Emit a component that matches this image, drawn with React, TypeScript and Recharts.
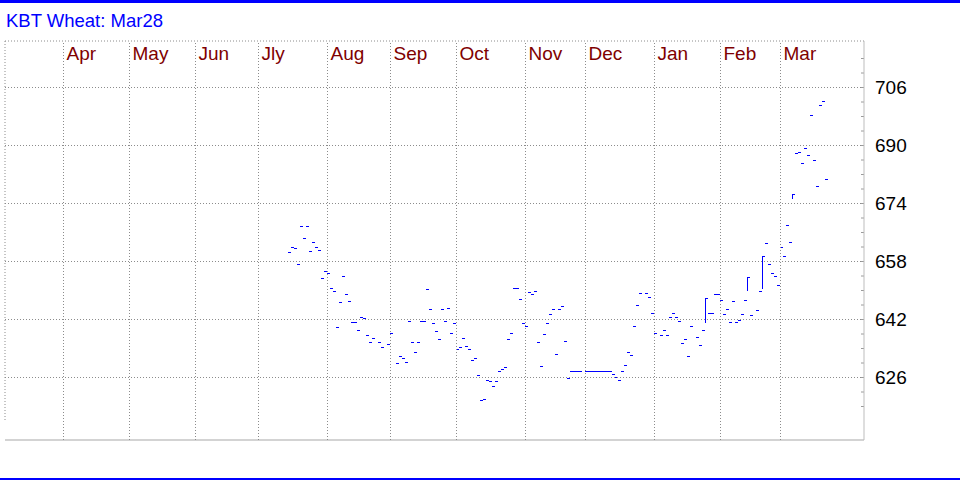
import React from 'react';
import { ComposedChart, Bar, XAxis, YAxis, ReferenceLine } from 'recharts';

const chartTitle = 'KBT Wheat: Mar28';

const monthLabels = ['Apr', 'May', 'Jun', 'Jly', 'Aug', 'Sep', 'Oct', 'Nov', 'Dec', 'Jan', 'Feb', 'Mar'];
// month boundaries expressed on the trading-day axis
const monthStarts = [-74.83, -52.83, -30.83, -9.83, 13.17, 34.17, 56.17, 79.17, 99.17, 122.17, 144.17, 164.17];

const priceLabels = [626, 642, 658, 674, 690, 706];
const minorTicks = [618, 622, 626, 630, 634, 638, 642, 646, 650, 654, 658, 662, 666, 670, 674, 678, 682, 686, 690, 694, 698, 702, 706, 710, 714];

const days = [
  0, 1, 2, 3, 4, 5, 6, 7, 8, 9, 10, 11, 12, 13, 14, 15, 16, 17, 18, 19, 20,
  21, 22, 23, 24, 25, 26, 27, 28, 30, 31, 33, 34, 36, 37, 38, 39, 40,
  41, 42, 43, 44, 45, 46, 47, 48, 49, 50, 51, 52, 53, 54, 55, 56, 57, 58, 59, 60,
  61, 62, 63, 64, 65, 66, 67, 68, 69, 70, 71, 72, 73, 74, 75, 76, 77, 78, 79, 80,
  81, 82, 83, 84, 85, 86, 87, 88, 89, 90, 91, 92, 93, 94, 95, 96, 97,
  99, 100, 101, 102, 103, 104, 105, 106, 107, 108, 109, 110, 111, 112, 113, 114, 115, 116, 117,
  119, 120, 121, 122, 124, 125, 126, 127, 128, 129, 130, 131, 132, 133, 134,
  136, 137, 138, 139, 140, 141, 142, 143, 144, 145, 146, 147, 148, 149, 150,
  151, 152, 153, 154, 156, 157, 158, 159, 160, 161, 162, 163, 164, 165, 166, 167, 168, 169, 170,
  171, 172, 173, 174, 175, 176, 177, 178, 179,
];

const closes = [
  660.5, 662.1, 661.6, 657.4, 667.7, 664.6, 667.7, 660.8, 663.5, 662.1, 661.3, 653.4, 655.5, 654.7, 650.8, 650.0, 639.8, 646.7, 653.9, 648.9, 647.0,
  641.4, 641.4, 639.2, 642.6, 642.3, 637.6, 635.7, 637.0, 635.7, 634.3, 635.2, 638.2, 629.9, 631.9, 631.3, 630.2, 641.5,
  635.7, 633.0, 635.7, 641.7, 641.5, 650.3, 645.0, 640.9, 638.9, 636.5, 645.0, 641.5, 645.3, 638.2, 640.9, 633.8, 634.3, 637.0, 634.8, 634.0,
  630.7, 631.5, 626.6, 619.7, 620.0, 625.2, 624.9, 623.7, 624.9, 627.7, 628.3, 628.8, 636.5, 638.2, 650.8, 650.8, 647.7, 640.9, 640.3, 649.7,
  648.9, 650.0, 635.7, 629.1, 637.9, 640.9, 643.4, 644.8, 632.6, 644.8, 645.6, 636.0, 626.0, 627.7, 627.7, 627.7, 627.7,
  627.7, 627.7, 627.7, 627.7, 627.7, 627.7, 627.7, 627.7, 627.7, 627.1, 626.2, 625.4, 627.9, 629.4, 632.9, 632.3, 640.3, 646.1, 649.4,
  649.4, 648.3, 643.7, 638.2, 637.6, 639.0, 637.6, 642.6, 643.9, 642.6, 641.7, 635.4, 636.5, 631.8, 640.3,
  637.3, 635.1, 639.0, 648.0, 643.9, 643.9, 648.9, 648.9, 647.4, 643.6, 645.0, 641.4, 647.0, 641.4, 642.0,
  643.6, 647.4, 653.6, 643.3, 644.5, 649.9, 659.4, 663.2, 657.4, 654.7, 653.9, 651.4, 662.1, 659.4, 668.2, 663.5, 676.5, 688.0, 688.3,
  685.2, 689.4, 687.5, 698.5, 686.1, 678.9, 701.2, 702.3, 680.8,
];

// days whose high and low differ (close sits at the high)
const rangeDays = [139, 153, 158, 168];
const rangeHighs = [648.0, 653.6, 659.4, 676.5];
const rangeLows = [641.3, 649.9, 650.6, 675.3];

const xDomain: [number, number] = [-94.333, 192];
const yDomain: [number, number] = [608.76, 718.828];

const data = days.map((d, i) => {
  const r = rangeDays.indexOf(d);
  const c = closes[i];
  return {
    d,
    close: c,
    range: r >= 0 ? [rangeLows[r], rangeHighs[r]] : [c, c],
  };
});

const BAR_COLOR = '#0000ff';
const GRID_COLOR = '#8c8c8c';
const FONT = '"Liberation Sans", Arial, sans-serif';

const OhlcShape = (props: any) => {
  const { x, y, width, height } = props;
  if (x == null || y == null || isNaN(x) || isNaN(y)) return null;
  const px = Math.round(x + (width || 0) / 2);
  const h0 = height || 0;
  const top = Math.round(Math.min(y, y + h0));
  const h = Math.round(Math.abs(h0));
  return (
    <g>
      {h > 0 && <rect x={px} y={top} width={1} height={h + 1} fill={BAR_COLOR} shapeRendering="crispEdges" />}
      <rect x={px} y={top} width={3} height={1} fill={BAR_COLOR} shapeRendering="crispEdges" />
    </g>
  );
};

const MonthLabel = (props: any) => {
  const { viewBox, text } = props;
  if (!viewBox) return null;
  return (
    <text x={viewBox.x + 3} y={viewBox.y + 19} fill="#800000" fontSize={19} fontFamily={FONT} textAnchor="start">
      {text}
    </text>
  );
};

export default function App() {
  return (
    <div style={{ position: 'absolute', left: 0, top: 0, width: 960, height: 480, background: '#ffffff', overflow: 'hidden' }}>
      <ComposedChart
        width={960}
        height={480}
        data={data}
        margin={{ top: 41, right: 0, bottom: 40, left: 5 }}
        style={{ position: 'absolute', left: 0, top: 0 }}
      >
        <XAxis type="number" dataKey="d" domain={xDomain} allowDataOverflow hide />
        <YAxis
          type="number"
          orientation="right"
          width={96}
          domain={yDomain}
          allowDataOverflow
          ticks={priceLabels}
          interval={0}
          tickLine={false}
          tickSize={6}
          tickMargin={5}
          axisLine={{ stroke: '#bdbdbd' }}
          tick={{ fill: '#000000', fontSize: 19, fontFamily: FONT }}
        />
        {/* plot frame */}
        <ReferenceLine y={yDomain[1]} stroke={GRID_COLOR} strokeDasharray="1 2" />
        <ReferenceLine
          segment={[{ x: xDomain[0], y: yDomain[1] }, { x: xDomain[0], y: 614 }]}
          stroke={GRID_COLOR}
          strokeDasharray="1 2"
        />
        <ReferenceLine y={yDomain[0]} stroke="#c4c4c4" strokeWidth={1.5} />
        {priceLabels.map((v) => (
          <ReferenceLine key={'h' + v} y={v} stroke={GRID_COLOR} strokeDasharray="1 2" />
        ))}
        {monthStarts.map((m, i) => (
          <ReferenceLine
            key={'v' + m}
            x={m}
            stroke={GRID_COLOR}
            strokeDasharray="1 2"
            label={<MonthLabel text={monthLabels[i]} />}
          />
        ))}
        {minorTicks.map((v) => (
          <ReferenceLine
            key={'t' + v}
            segment={[{ x: 191, y: v }, { x: 192, y: v }]}
            stroke="#9a9a9a"
          />
        ))}
        <Bar dataKey="range" barSize={1} shape={OhlcShape} isAnimationActive={false} />
      </ComposedChart>
      <div style={{ position: 'absolute', left: 0, top: 0, width: 960, height: 3, background: '#0000ff' }} />
      <div
        style={{
          position: 'absolute',
          left: 6,
          top: 12,
          fontFamily: FONT,
          fontSize: 18.5,
          lineHeight: '18px',
          color: '#0000ff',
          whiteSpace: 'nowrap',
        }}
      >
        {chartTitle}
      </div>
      <div style={{ position: 'absolute', left: 0, top: 478, width: 960, height: 2, background: '#0000ff' }} />
    </div>
  );
}
